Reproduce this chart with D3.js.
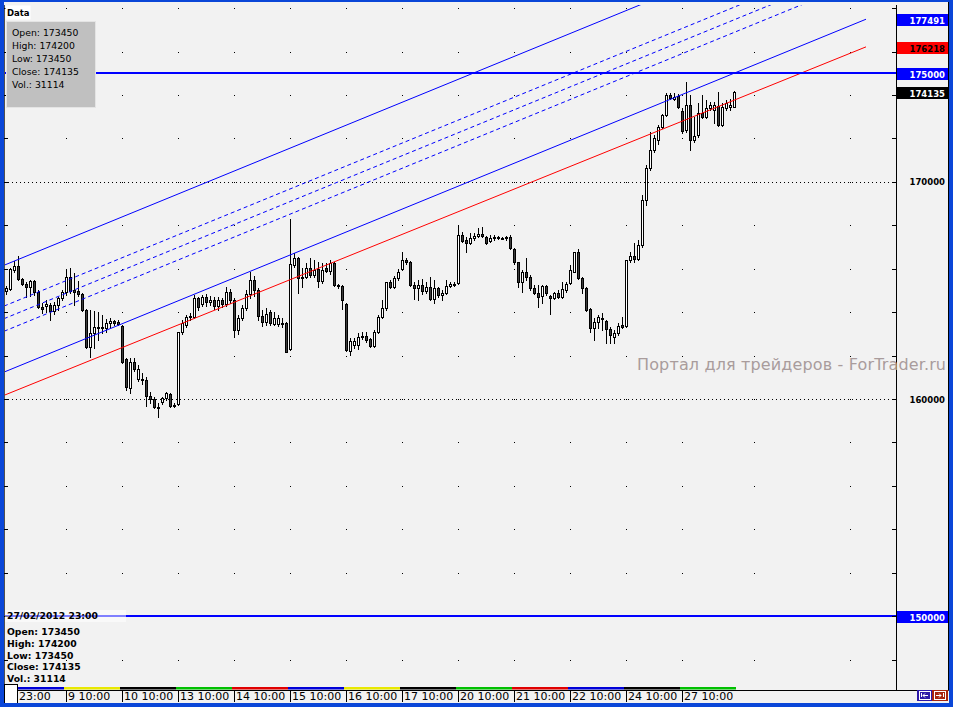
<!DOCTYPE html>
<html><head><meta charset="utf-8">
<script src="https://cdn.jsdelivr.net/npm/d3@7"></script>
<style>body{margin:0;background:#f2f2f2;overflow:hidden}svg{display:block}</style>
</head><body><svg id="c" width="953" height="707"></svg>
<script>
// ---------- DATA ----------
const opens = [
164980,165070,165950,166130,165530,165300,165160,165440,164930,164240,
164290,164330,164060,164330,164660,164930,165620,165020,164980,164840,
164100,162400,163040,163320,163270,163270,163500,163600,163550,163370,
161840,160510,161710,160920,160920,160880,160140,160000,159630,159860,
160050,160230,159720,159770,163090,163410,163780,163780,164660,164380,
164700,164470,164560,164290,164560,164380,164930,164560,163180,163730,
164190,164840,165490,165020,163830,163550,164010,163460,163460,163500,
163500,162310,166180,166500,165580,165620,166040,165720,165990,165440,
166040,165900,166270,165250,165210,164380,162210,162490,162490,162860,
162900,162770,162440,163090,163780,164190,165390,165160,165580,165990,
166410,166310,165250,165120,165250,164980,165160,164610,165120,164790,
164890,165210,165250,165350,167560,167330,167190,167420,167510,167600,
167470,167280,167420,167470,167420,167420,167470,166910,166310,165390,
165850,165620,165120,164890,164750,165210,164750,164660,164890,164700,
165020,165350,165850,166780,165580,165120,164150,163270,163550,163730,
163600,163230,162860,163040,163410,163370,166410,166590,166450,167100,
169170,170650,171480,171940,172540,173090,174010,173820,173960,173270,
172400,173550,171940,172170,173180,173000,173410,173320,173500,172630,
173410,173460,173450];
const highs = [
165210,166040,166360,166590,165580,165390,165490,165490,165020,164430,
164560,164430,164470,164700,165020,165990,166040,165810,165440,164890,
164150,164100,164060,164010,163870,163690,163730,163640,163640,163410,
161890,161890,161890,161570,161200,161020,160320,160090,159820,160090,
160320,160280,159820,163090,163640,163870,163960,164790,164700,164790,
164840,164750,164700,164700,164660,165160,165070,164660,163870,164330,
165020,165850,165670,165120,164100,164190,164100,164010,163870,163730,
163550,168300,166730,166540,166040,166270,166500,166410,166310,166270,
166270,166410,166310,165300,165250,164430,162810,162810,163040,163090,
163090,162790,163180,163870,164560,165390,165490,165670,165990,166780,
166500,166360,165390,165490,165530,165390,165620,165490,165160,165020,
165490,165390,165390,168020,167700,167470,167650,167650,167880,167930,
167510,167560,167560,167510,167470,167510,167560,166960,166330,165950,
166500,165720,165250,165250,165250,165250,164790,164930,165020,165390,
165390,166180,166780,166910,165620,165160,164190,163730,163870,163960,
163640,163320,163180,163500,163780,166410,166780,167190,167330,169400,
170780,172300,172170,172630,173130,174100,174100,174100,174050,173410,
174610,174010,173000,173640,174010,173780,173690,173690,174150,173640,
173780,173820,174200];
const lows = [
164840,165020,165850,165490,165250,164700,164750,164790,164190,163960,
164010,163640,163920,164100,164560,164790,164890,164330,164750,164060,
162350,161940,162350,162720,163040,163090,163320,163410,163410,161660,
160420,160280,161290,160830,160690,159680,159820,159590,159170,159770,
159960,159630,159630,159720,163000,163320,163640,163730,164100,164290,
164290,164330,164150,164100,164240,164290,164430,162860,163000,163640,
164100,164660,164750,163640,163370,163410,163410,163410,163370,163320,
162170,162260,166080,164890,165160,165580,165620,165620,165160,165350,
165850,165760,165210,165120,164150,162210,162030,162350,162310,162770,
162630,162400,162400,163040,163730,164100,165120,165120,165490,165950,
166220,165210,164610,164560,164840,164890,164560,164430,164700,164560,
164840,165160,165210,165300,167240,166780,167140,167330,167470,167470,
167140,167240,167330,167370,167370,167330,166910,166220,165160,164930,
165490,165020,164840,164240,164430,164790,163920,164610,164660,164660,
164930,165300,165830,165530,164890,164060,163090,162720,163270,163180,
162580,162580,162580,162950,163270,163320,166310,166310,166410,167010,
168940,170550,171380,171750,172490,173040,173820,173780,173410,172260,
172310,171480,171840,172080,172950,172950,173320,172720,172580,172580,
173320,173320,173450];
const closes = [
165120,165990,166130,165530,165300,165160,165440,164930,164240,164150,
164380,164060,164330,164660,164930,165620,164980,164930,164840,164100,
162400,163040,163320,163270,163320,163500,163600,163500,163460,161710,
160550,161710,161380,161380,160880,160140,160000,159630,159590,160050,
160280,159680,159680,163090,163500,163780,163830,164660,164240,164700,
164470,164560,164290,164560,164380,164930,164560,163180,163730,164190,
164840,165490,165020,163830,163550,163920,163500,163730,163730,163460,
162170,166220,166500,165580,165620,166040,165720,165950,165440,165950,
165900,166270,165250,165210,164560,162260,162670,162670,162860,162900,
162720,162440,163090,163780,164190,165390,165160,165580,165850,166410,
166310,165250,165120,165250,164980,165160,164610,165120,164790,164890,
165210,165300,165300,167560,167280,167190,167420,167510,167600,167510,
167190,167420,167470,167420,167430,167470,166960,166310,165390,165850,
165620,165120,164890,164700,165210,164890,164660,164890,164700,165070,
165300,165950,166780,165580,165120,164100,163270,163550,163780,163690,
163230,162950,163040,163370,163320,166400,166590,166450,167100,169170,
170650,171480,172030,172540,173090,174010,173870,173920,173460,172350,
173550,171940,172120,173180,173000,173410,173550,173550,172630,173460,
173640,173550,174135];

// day labels (bar index where each day's 10:00 bar sits)
const dayLabels = ["23:00","9 10:00","10 10:00","13 10:00","14 10:00","15 10:00","16 10:00","17 10:00","20 10:00","21 10:00","22 10:00","24 10:00","27 10:00"];
const dayStart  = [null,15,29,43,57,71,85,99,113,127,141,155,169];
const dayColors = ["#0000d8","#e8e800","#000000","#00c000","#e00000","#0000d8","#e8e800","#000000","#00c000","#e00000","#0000d8","#000000","#00c000"];
const gridExtraBars = [187, 211];

// objects: [barIndex, price]
const redLine     = [[-0.5,160170],[215,176218]];
const channelLow  = [[-0.5,161240],[215,177491]];
const channelHigh = [[-0.5,166160],[215,182411]];
const fibDashed   = [ [[-0.5,164280],[215,180532]], [[-0.5,163700],[215,179951]], [[-0.5,163120],[215,179370]] ];
const hLevels     = [175000,150000];
const gridLevels  = [160000,170000];
const tickLevels  = d3.range(148000,178001,2000);
const priceLabels = [160000,170000];
const axisMarks = [
  {v:177491, bg:"#0000ff", fg:"#ffffff"},
  {v:176218, bg:"#ff0000", fg:"#000000"},
  {v:175000, bg:"#0000ff", fg:"#ffffff"},
  {v:174135, bg:"#000000", fg:"#ffffff"},
  {v:150000, bg:"#0000ff", fg:"#ffffff"}
];
const lastBar = {time:"27/02/2012 23:00", open:173450, high:174200, low:173450, close:174135, vol:31114};
const watermark = "Портал для трейдеров - ForTrader.ru";

// ---------- LAYOUT ----------
const plot = {l:4, r:896, t:5, b:690};
const axR = 948;
const x = d3.scaleLinear().domain([0,182]).range([6,734]);
const y = d3.scaleLinear().domain([146600,178100]).range([690,6]);
const FONT = "DejaVu Sans, Verdana, sans-serif";

const svg = d3.select("#c");
svg.append("rect").attr("width",953).attr("height",707).attr("fill","#f2f2f2");
svg.append("defs").append("clipPath").attr("id","clip")
  .append("rect").attr("x",plot.l+1).attr("y",plot.t).attr("width",plot.r-plot.l-1).attr("height",plot.b-plot.t);

// grid
const grid = svg.append("g").attr("clip-path","url(#clip)");
grid.selectAll("line.hg").data(gridLevels).join("line")
  .attr("x1",plot.l).attr("x2",plot.r)
  .attr("y1",d=>Math.round(y(d))+0.5).attr("y2",d=>Math.round(y(d))+0.5)
  .attr("stroke","#000").attr("stroke-dasharray","1,3");
const gridBars = dayStart.filter(d=>d!==null).concat(gridExtraBars);
const dots = [];
gridBars.forEach(b=>tickLevels.forEach(v=>dots.push([b,v])));
grid.selectAll("rect.dot").data(dots).join("rect")
  .attr("x",d=>Math.round(x(d[0]))).attr("y",d=>Math.round(y(d[1])))
  .attr("width",1).attr("height",1).attr("fill","#000");

// candles
const idx = d3.range(opens.length);
const cg = svg.append("g").attr("clip-path","url(#clip)");
cg.selectAll("line.wick").data(idx).join("line")
  .attr("x1",i=>Math.round(x(i))+0.5).attr("x2",i=>Math.round(x(i))+0.5)
  .attr("y1",i=>Math.round(y(highs[i]))).attr("y2",i=>Math.round(y(lows[i]))+1)
  .attr("stroke","#000").attr("stroke-width",1);
cg.selectAll("rect.body").data(idx).join("rect")
  .attr("x",i=>Math.round(x(i))-0.5)
  .attr("y",i=>Math.round(y(Math.max(opens[i],closes[i])))+0.5)
  .attr("width",2)
  .attr("height",i=>Math.max(1,Math.round(y(Math.min(opens[i],closes[i])))-Math.round(y(Math.max(opens[i],closes[i])))))
  .attr("fill",i=>closes[i]>=opens[i]?"#ffffff":"#3c3c3c")
  .attr("stroke","#000").attr("stroke-width",1);

// trend objects
const lg = svg.append("g").attr("clip-path","url(#clip)");
const line = d3.line().x(d=>x(d[0])).y(d=>y(d[1]));
lg.append("path").attr("d",line(channelHigh)).attr("fill","none").attr("stroke","#0000ff").attr("stroke-width",1);
lg.append("path").attr("d",line(channelLow)).attr("fill","none").attr("stroke","#0000ff").attr("stroke-width",1);
lg.selectAll("path.fib").data(fibDashed).join("path").attr("d",line).attr("fill","none")
  .attr("stroke","#0000ff").attr("stroke-width",1).attr("stroke-dasharray","4,3");
lg.append("path").attr("d",line(redLine)).attr("fill","none").attr("stroke","#ff0000").attr("stroke-width",1);
lg.selectAll("line.hl").data(hLevels).join("line")
  .attr("x1",plot.l).attr("x2",plot.r).attr("y1",d=>Math.round(y(d))).attr("y2",d=>Math.round(y(d)))
  .attr("stroke","#0000ff").attr("stroke-width",2);

// frame
svg.append("line").attr("x1",plot.r+0.5).attr("x2",plot.r+0.5).attr("y1",plot.t).attr("y2",plot.b+0.5).attr("stroke","#000");
svg.append("line").attr("x1",plot.l).attr("x2",axR+0.5).attr("y1",plot.b+0.5).attr("y2",plot.b+0.5).attr("stroke","#000");
svg.append("line").attr("x1",plot.l+0.5).attr("x2",plot.l+0.5).attr("y1",plot.t).attr("y2",plot.b).attr("stroke","#505050");
svg.append("line").attr("x1",axR+0.5).attr("x2",axR+0.5).attr("y1",0).attr("y2",plot.b+0.5).attr("stroke","#000");

// ticks
svg.selectAll("line.rt").data(tickLevels).join("line")
  .attr("x1",plot.r-4).attr("x2",plot.r).attr("y1",d=>Math.round(y(d))+0.5).attr("y2",d=>Math.round(y(d))+0.5).attr("stroke","#000");
svg.selectAll("line.lt").data(tickLevels).join("line")
  .attr("x1",plot.l).attr("x2",plot.l+4).attr("y1",d=>Math.round(y(d))+0.5).attr("y2",d=>Math.round(y(d))+0.5).attr("stroke","#000");
svg.selectAll("text.pl").data(priceLabels).join("text")
  .attr("x",945).attr("y",d=>y(d)+3.5).attr("text-anchor","end")
  .attr("font-family",FONT).attr("font-weight","bold").attr("font-size","8.5px").attr("fill","#000").text(d=>d);

// axis marks
const am = svg.selectAll("g.am").data(axisMarks).join("g");
am.append("rect").attr("x",plot.r+1).attr("y",d=>Math.round(y(d.v))-5).attr("width",axR-plot.r-1).attr("height",12).attr("fill",d=>d.bg);
am.append("text").attr("x",945).attr("y",d=>Math.round(y(d.v))+4.5).attr("text-anchor","end")
  .attr("font-family",FONT).attr("font-weight","bold").attr("font-size","8.5px").attr("fill",d=>d.fg).text(d=>d.v);

// x-axis colored day strip
const segs = dayStart.map((s,k)=>{
  const x0 = s===null ? plot.l : x(s)-2;
  const x1 = k<dayStart.length-1 ? x(dayStart[k+1])-2 : x(opens.length-1)+2;
  return {x0,x1,c:dayColors[k]};
});
svg.selectAll("rect.seg").data(segs).join("rect")
  .attr("x",d=>d.x0).attr("y",687).attr("width",d=>d.x1-d.x0).attr("height",2.5).attr("fill",d=>d.c);
svg.selectAll("line.xt").data(dayStart.filter(d=>d!==null)).join("line")
  .attr("x1",d=>Math.round(x(d))+0.5).attr("x2",d=>Math.round(x(d))+0.5).attr("y1",690).attr("y2",702).attr("stroke","#000");
svg.selectAll("text.xl").data(dayLabels).join("text")
  .attr("x",(d,k)=>dayStart[k]===null?19:Math.round(x(dayStart[k]))+2).attr("y",700)
  .attr("font-family",FONT).attr("font-size","11px").attr("fill","#000").text(d=>d);
svg.append("rect").attr("x",4.5).attr("y",684.5).attr("width",13).attr("height",21).attr("fill","#fff").attr("stroke","#000");

// bottom-left info (semi-transparent backdrop over the 150000 line)
svg.append("rect").attr("x",plot.l+1).attr("y",610).attr("width",121).attr("height",12).attr("fill","#fff").attr("opacity",0.5);
const bl = [lastBar.time, "Open: "+lastBar.open, "High: "+lastBar.high, "Low: "+lastBar.low, "Close: "+lastBar.close, "Vol.: "+lastBar.vol];
svg.selectAll("text.bl").data(bl).join("text")
  .attr("x",7).attr("y",(d,k)=>k===0?619:635+(k-1)*11.8)
  .attr("font-family",FONT).attr("font-weight","bold").attr("font-size","9.25px").attr("fill","#000").text(d=>d);

// top-left data box
svg.append("rect").attr("x",5.5).attr("y",5.5).attr("width",25).attr("height",14).attr("fill","#fff");
svg.append("text").attr("x",7).attr("y",16).attr("font-family",FONT).attr("font-weight","bold").attr("font-size","8.5px").text("Data");
svg.append("rect").attr("x",6.5).attr("y",21.5).attr("width",89).attr("height",86).attr("fill","#c0c0c0").attr("stroke","#e4e4e4");
const tl = ["Open: "+lastBar.open, "High: "+lastBar.high, "Low: "+lastBar.low, "Close: "+lastBar.close, "Vol.: "+lastBar.vol];
svg.selectAll("text.tl").data(tl).join("text")
  .attr("x",12).attr("y",(d,k)=>36+k*13)
  .attr("font-family",FONT).attr("font-size","9.3px").attr("fill","#000").text(d=>d);

// watermark
svg.append("text").attr("x",637).attr("y",370).attr("font-family",FONT).attr("font-size","16px")
  .attr("fill","#a99c9c").attr("textLength",309).attr("lengthAdjust","spacing").text(watermark);

// scroll buttons
svg.append("rect").attr("x",917).attr("y",690).attr("width",15).attr("height",11).attr("fill","#2c18a8");
svg.append("rect").attr("x",932).attr("y",690).attr("width",16).attr("height",11).attr("fill","#a8240c");
svg.append("rect").attr("x",919.5).attr("y",691.5).attr("width",11).attr("height",8).attr("fill","none").attr("stroke","#fff");
svg.append("rect").attr("x",934.5).attr("y",691.5).attr("width",11).attr("height",8).attr("fill","none").attr("stroke","#fff");
svg.append("path").attr("d","M921.5,693v4M928,695.5h-5M925,693.5l-2,2l2,2").attr("stroke","#fff").attr("fill","none");
svg.append("path").attr("d","M943.5,693v4M936,695.5h5M939,693.5l2,2l-2,2").attr("stroke","#fff").attr("fill","none");

// window borders
svg.append("rect").attr("x",0).attr("y",0).attr("width",4).attr("height",707).attr("fill","#0a46d8");
svg.append("rect").attr("x",949).attr("y",0).attr("width",4).attr("height",707).attr("fill","#0a46d8");
svg.append("rect").attr("x",0).attr("y",703).attr("width",953).attr("height",4).attr("fill","#0a46d8");
svg.append("rect").attr("x",0).attr("y",0).attr("width",953).attr("height",2).attr("fill","#0a46d8");
</script></body></html>
